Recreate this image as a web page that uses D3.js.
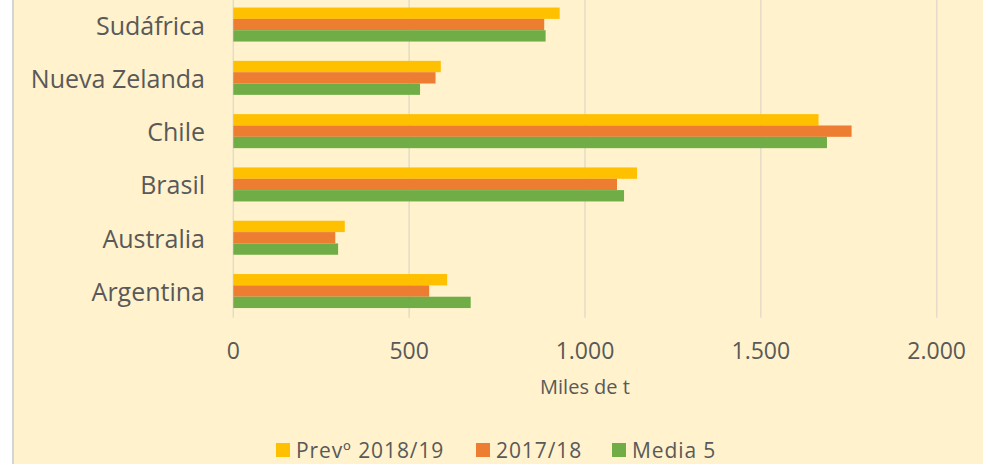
<!DOCTYPE html>
<html><head><meta charset="utf-8">
<script src="https://cdn.jsdelivr.net/npm/d3@7"></script>
<style>body{margin:0;background:#fff;}svg{display:block;}</style>
</head><body>
<svg id="chart" width="983" height="464"></svg>
<script>
const categories = ["Sudáfrica","Nueva Zelanda","Chile","Brasil","Australia","Argentina"];
const seriesNames = ["Prevº 2018/19","2017/18","Media 5"];
const prev1819 = [928, 590, 1664, 1148, 317, 608];
const s1718 = [884, 575, 1758, 1091, 290, 557];
const media5 = [888, 531, 1688, 1111, 298, 675];
const xTicks = [0, 500, 1000, 1500, 2000];
const xTickLabels = ["0","500","1.000","1.500","2.000"];
const colors = ["#FFC000","#ED7D31","#70AD47"];
const axisTitle = "Miles de t";

const series = [prev1819, s1718, media5];
const svg = d3.select("#chart");
const font = "'Open Sans', sans-serif";
const textColor = "#595959";

// background
svg.append("rect").attr("x",0).attr("y",0).attr("width",983).attr("height",464).attr("fill","#fff");
svg.append("rect").attr("x",12).attr("y",0).attr("width",971).attr("height",464).attr("fill","#D4D4D4");
svg.append("rect").attr("x",14).attr("y",0).attr("width",969).attr("height",464).attr("fill","#FFF2CC");

const x = d3.scaleLinear().domain([0,2000]).range([233.3, 936.7]);
const plotBottom = 317.7, plotTop = plotBottom - 6*53.3;
const y = d3.scaleBand().domain(categories).range([plotTop, plotBottom]).paddingInner(0.362).paddingOuter(0.181);
const ySub = d3.scaleBand().domain(d3.range(series.length)).range([0, y.bandwidth()]);

// gridlines
svg.append("g").selectAll("line").data(xTicks).join("line")
  .attr("x1", d=>x(d)).attr("x2", d=>x(d))
  .attr("y1", 0).attr("y2", plotBottom)
  .attr("stroke","#E2DCC9").attr("stroke-width",1.5);

// bars
const groups = svg.append("g").selectAll("g").data(categories).join("g")
  .attr("transform", c=>`translate(0,${y(c)})`);
groups.selectAll("rect").data((c,i)=>series.map((s,k)=>({k, v:s[i]}))).join("rect")
  .attr("x", x(0)).attr("y", d=>ySub(d.k))
  .attr("width", d=>x(d.v)-x(0)).attr("height", ySub.bandwidth())
  .attr("fill", d=>colors[d.k]);

// category labels
svg.append("g").selectAll("text").data(categories).join("text")
  .attr("x", 205).attr("y", c=>y(c)+y.bandwidth()/2)
  .attr("text-anchor","end").attr("dominant-baseline","central")
  .attr("font-family", font).attr("font-size", 25).attr("fill", textColor)
  .text(c=>c);

// x tick labels
svg.append("g").selectAll("text").data(xTicks).join("text")
  .attr("x", d=>x(d)).attr("y", 350)
  .attr("text-anchor","middle").attr("dominant-baseline","central")
  .attr("font-family", font).attr("font-size", 23).attr("fill", textColor)
  .text((d,i)=>xTickLabels[i]);

// axis title
svg.append("text").attr("x", 585).attr("y", 386)
  .attr("text-anchor","middle").attr("dominant-baseline","central")
  .attr("font-family", font).attr("font-size", 20).attr("fill", textColor)
  .text(axisTitle);

// legend
const legX = [276, 476, 612];
const leg = svg.append("g").selectAll("g").data(seriesNames).join("g")
  .attr("transform",(d,i)=>`translate(${legX[i]},443)`);
leg.append("rect").attr("width",14).attr("height",14).attr("fill",(d,i)=>colors[i]);
leg.append("text").attr("x",20).attr("y",6.5).attr("dominant-baseline","central")
  .attr("font-family", font).attr("font-size", 21).attr("letter-spacing", 0.9).attr("fill", textColor)
  .text(d=>d);
</script>
</body></html>
